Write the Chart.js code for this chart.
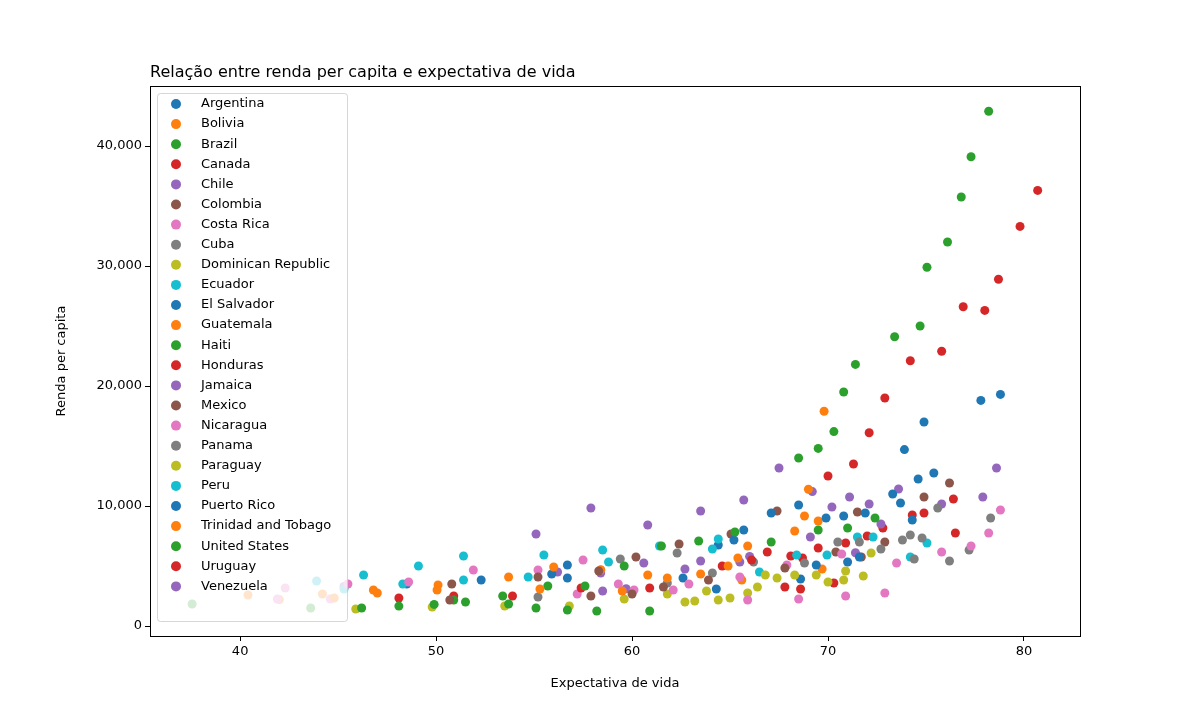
<!DOCTYPE html>
<html><head><meta charset="utf-8">
<script src="https://cdn.jsdelivr.net/npm/chart.js@4"></script>
<style>html,body{margin:0;background:#fff}#wrap{width:1200px;height:715px}</style>
</head><body><div id="wrap"><canvas id="c"></canvas></div>
<script>
/* ============ data ============ */
const countries = ['Argentina','Bolivia','Brazil','Canada','Chile','Colombia','Costa Rica','Cuba',
  'Dominican Republic','Ecuador','El Salvador','Guatemala','Haiti','Honduras','Jamaica','Mexico',
  'Nicaragua','Panama','Paraguay','Peru','Puerto Rico','Trinidad and Tobago','United States','Uruguay','Venezuela'];
const palette = ['#1f77b4','#ff7f0e','#2ca02c','#d62728','#9467bd','#8c564b','#e377c2','#7f7f7f','#bcbd22','#17becf'];

const argentina = [[78.8,19300],[77.8,18800],[74.9,17000],[73.9,14700],[75.4,12750],[74.6,12250],[73.3,11000],[73.7,10250],[74.3,8830]];
const bolivia = [[40.4,2580],[44.2,2670],[44.8,2330],[46.8,3000],[47.0,2750],[50.1,3420],[50.05,3000],[53.7,4080],[55.3,3080],[59.5,2920]];
const brazil = [[55.7,3330],[57.6,3330],[59.6,5000],[61.5,6670],[63.4,7080],[65.25,7830],[69.5,8000],[71.0,8170],[72.4,9000],[67.1,7000]];
const canada = [[80.7,36300],[79.8,33300],[78.7,28900],[76.9,26600],[78.0,26300],[75.8,22900],[74.2,22100],[72.9,19000],[72.1,16100],[71.3,13500],[70.0,12500]];
const chile = [[65.7,10500],[63.5,9580],[60.8,8420],[57.9,9830],[55.1,7670],[67.5,13170],[70.2,9920],[71.1,10750],[72.1,10170],[73.6,11420]];
const colombia = [[50.8,3500],[55.2,4080],[58.3,4580],[57.9,2500],[50.7,2170],[60.0,2670],[61.6,3250],[63.9,3830],[67.8,4830],[60.2,5750],[62.4,6830]];
const costaRica = [[78.8,9670],[78.2,7750],[77.3,6670],[75.8,6170],[73.5,5250],[70.7,6000],[67.9,5080],[65.5,4080],[62.9,3500],[59.3,3500],[57.5,5500],[55.2,4670],[51.9,4670]];
const cuba = [[78.3,9000],[77.2,6330],[76.2,5420],[75.6,9830],[74.8,7330],[74.2,7580],[73.8,7170],[72.7,6420],[71.6,7000],[70.5,7000],[74.4,5580]];
const dominican = [[71.8,4170],[72.2,6080],[70.9,4580],[70.8,3830],[70.0,3670],[69.4,4250],[68.3,4250],[67.4,4000],[66.8,4250]];
const ecuador = [[75.05,6920],[74.2,5750],[72.3,7420],[71.5,7420],[69.95,5920],[68.4,5920],[66.5,4500],[64.4,7250],[64.1,6420],[61.4,6670]];
const elSalvador = [[70.8,9170],[69.9,9000],[71.9,9420],[68.5,10080],[67.1,9420],[65.7,8000],[65.2,7170],[64.4,6750],[68.6,3920],[69.4,5080],[71.0,5330],[71.6,5750]];
const guatemala = [[69.8,17900],[69.0,11400],[68.8,9170],[69.5,8750],[68.3,7920],[65.9,6670],[65.4,5670],[64.9,5000],[61.8,4000],[60.8,4250],[58.4,4670],[56.0,4920]];
const haiti = [[37.55,1830],[43.6,1500],[46.2,1500],[48.1,1660],[49.9,1800],[50.9,2170],[51.5,2000],[53.4,2500],[53.7,1830],[55.1,1500],[56.7,1330],[58.2,1250],[60.9,1250]];
const honduras = [[48.1,2330],[50.9,2500],[53.9,2500],[57.4,3170],[60.9,3170],[67.8,3250],[68.6,3080],[70.3,3580],[64.6,5000],[66.1,5500]];
const jamaica = [[78.6,13170],[75.8,10170],[77.9,10750],[72.7,8500],[69.1,7420],[65.5,5330],[63.5,5420],[62.7,4750],[60.6,5250],[58.5,2920],[58.4,4420]];
const mexico = [[76.2,11920],[74.9,10750],[71.5,9500],[67.4,9580],[72.9,7000],[70.4,6170],[65.05,7670],[71.7,5750],[58.4,4670]];
const nicaragua = [[72.9,2750],[70.9,2500],[68.5,2250],[65.9,2170],[62.1,3000],[60.1,3000],[48.6,3670],[57.2,2670],[42.3,3170],[41.9,2250],[44.6,2250],[45.5,3500]];
const panama = [[68.8,5250],[66.2,5330],[64.1,4420],[62.3,6080],[59.4,5580],[61.8,3580],[55.2,2420]];
const paraguay = [[66.4,3250],[65.9,2750],[65.0,2330],[64.4,2170],[63.8,2920],[63.2,2080],[62.7,2000],[61.8,2670],[59.6,2250],[56.8,1670],[53.5,1670],[49.8,1580],[45.9,1420]];
const peru = [[58.8,5330],[58.5,6330],[55.5,5920],[51.4,5830],[49.1,5000],[46.3,4250],[51.4,3830],[54.7,4080],[48.3,3500],[43.9,3750],[45.3,3080]];
const puertoRico = [[48.5,3500],[52.3,3830],[56.7,4000],[56.7,5080],[55.9,4330],[62.6,4000],[64.3,3080]];
const trinidad = [[63.5,4330],[65.6,3830],[69.7,4750],[42.0,2200]];
const unitedStates = [[78.2,42900],[77.3,39100],[76.8,35750],[76.1,32000],[75.05,29900],[74.7,25000],[73.4,24100],[71.4,21800],[70.8,19500],[70.3,16200],[69.5,14800],[68.5,14000]];
const uruguay = [[66.9,6170],[68.1,5830],[68.7,5670],[69.5,6500],[70.9,6920],[72.0,7500],[72.8,8170],[74.3,9250],[74.9,9420],[76.5,7750],[76.4,10580]];
const venezuela = [[45.3,3300],[56.2,4500],[59.7,3100],[66.0,5800],[69.2,11200],[71.4,6100]];

const series = [argentina,bolivia,brazil,canada,chile,colombia,costaRica,cuba,dominican,ecuador,
  elSalvador,guatemala,haiti,honduras,jamaica,mexico,nicaragua,panama,paraguay,peru,
  puertoRico,trinidad,unitedStates,uruguay,venezuela];
const xTicks = [40,50,60,70,80];
const yTicks = [0,10000,20000,30000,40000];

const FONT = "'DejaVu Sans',sans-serif";

/* frame, title and matplotlib-like legend */
const mplDecor = {
  id:'mplDecor',
  afterDatasetsDraw(chart){
    const {ctx, chartArea:a} = chart;
    ctx.save();
    ctx.strokeStyle='#000'; ctx.lineWidth=1;
    ctx.strokeRect(a.left+0.5,a.top+0.5,a.right-a.left,a.bottom-a.top);
    ctx.fillStyle='#000'; ctx.font='16px '+FONT; ctx.textBaseline='alphabetic'; ctx.textAlign='left';
    ctx.fillText('Relação entre renda per capita e expectativa de vida', a.left, a.top-9);
    // legend
    const lx=157, ly=93, lw=190, lh=528;
    ctx.fillStyle='rgba(255,255,255,0.8)'; ctx.strokeStyle='rgba(204,204,204,0.8)';
    ctx.beginPath(); ctx.roundRect(lx+0.5,ly+0.5,lw,lh,3); ctx.fill(); ctx.stroke();
    ctx.font='13px '+FONT; ctx.textBaseline='middle';
    countries.forEach((n,i)=>{
      const y=104+i*20.1;
      ctx.fillStyle=palette[i%10]; ctx.beginPath(); ctx.arc(176,y,5,0,Math.PI*2); ctx.fill();
      ctx.fillStyle='#000'; ctx.fillText(n,201,y);
    });
    ctx.restore();
  }
};

const tickCfg = {color:'#000',font:{size:13,family:FONT}};
new Chart(document.getElementById('c'),{
  type:'scatter',
  data:{datasets:series.map((s,i)=>({label:countries[i],data:s.map(p=>({x:p[0],y:p[1]})),
    backgroundColor:palette[i%10],borderWidth:0,pointRadius:4.5,pointHoverRadius:4.5}))},
  options:{responsive:true,maintainAspectRatio:false,animation:false,
    layout:{padding:{left:50,right:120,top:86,bottom:20}},
    plugins:{legend:{display:false},tooltip:{enabled:false}},
    scales:{
      x:{type:'linear',min:35.4,max:82.86,
        afterBuildTicks:ax=>{ax.ticks=xTicks.map(v=>({value:v}));},
        afterFit:ax=>{ax.height=59;},
        grid:{drawOnChartArea:false,tickLength:5,color:'#000'},border:{display:false},
        ticks:{...tickCfg,padding:3,maxRotation:0},
        title:{display:true,text:'Expectativa de vida',color:'#000',font:{size:13,family:FONT},padding:{top:4}}},
      y:{type:'linear',min:-833,max:45000,
        afterBuildTicks:ax=>{ax.ticks=yTicks.map(v=>({value:v}));},
        afterFit:ax=>{ax.width=100;},
        grid:{drawOnChartArea:false,tickLength:5,color:'#000'},border:{display:false},
        ticks:{...tickCfg,padding:3},
        title:{display:true,text:'Renda per capita',color:'#000',font:{size:13,family:FONT},padding:{bottom:6}}}
    }},
  plugins:[mplDecor]
});
</script></body></html>
